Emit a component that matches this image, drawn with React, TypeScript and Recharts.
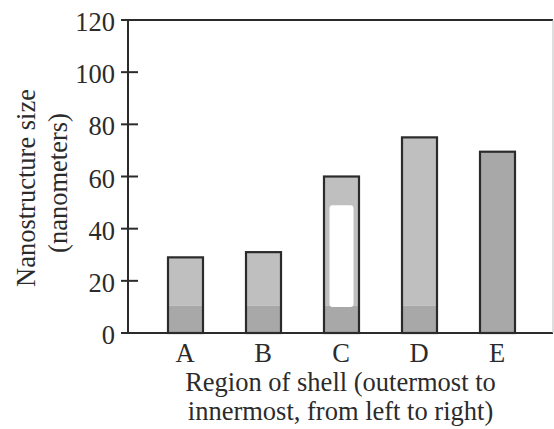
import React from 'react';
import { BarChart, Bar, XAxis, YAxis, ReferenceLine } from 'recharts';

const regions = ['A', 'B', 'C', 'D', 'E'];
const sizes = [29, 31, 60, 75, 69.5];
const darkBase = [10.5, 10.5, 10.5, 10.5, 69.5];
const blankFrom: (number | null)[] = [null, null, 10, null, null];
const blankTo: (number | null)[] = [null, null, 49, null, null];
const yTicks = [0, 20, 40, 60, 80, 100, 120];

const data = regions.map((r, i) => ({
  region: r,
  total: sizes[i],
  base: darkBase[i],
  blankFrom: blankFrom[i],
  blankTo: blankTo[i],
}));

const FONT = '"Liberation Serif", "Times New Roman", serif';
const FS = 26.5;
const INK = '#2b2b2b';
const LIGHT = '#bfbfbf';
const DARK = '#a8a8a8';

const BarShape = (props: any) => {
  const { x, y, width, height, payload } = props;
  if (!height || height <= 0) return null;
  const ppu = height / payload.total;
  const baseH = Math.min(height, payload.base * ppu);
  const bottom = y + height;
  let blank = null;
  if (payload.blankFrom != null && payload.blankTo != null) {
    const top = bottom - payload.blankTo * ppu;
    const h = (payload.blankTo - payload.blankFrom) * ppu;
    blank = <rect x={x + 5.5} y={top} width={width - 11} height={h} rx={3} fill="#ffffff" />;
  }
  return (
    <g>
      <rect x={x} y={y} width={width} height={height - baseH} fill={LIGHT} />
      <rect x={x} y={bottom - baseH} width={width} height={baseH} fill={DARK} />
      {blank}
      <rect x={x} y={y} width={width} height={height} fill="none" stroke={INK} strokeWidth={2.2} />
    </g>
  );
};

const YTick = (props: any) => {
  const { x, y, payload } = props;
  const ax = x + 13;
  return (
    <g>
      <line x1={ax - 7} x2={ax + 10} y1={y} y2={y} stroke={INK} strokeWidth={2} />
      <text x={x} y={y + 11} textAnchor="end" fontFamily={FONT} fontSize={FS} fill={INK}>
        {payload.value}
      </text>
    </g>
  );
};

const YTitle = (props: any) => {
  const { viewBox } = props;
  const vx = viewBox.x;
  return (
    <g fontFamily={FONT} fontSize={FS} fill={INK}>
      <text x={vx + 35} y={188} textAnchor="middle" transform={`rotate(-90 ${vx + 35} 188)`}>
        Nanostructure size
      </text>
      <text x={vx + 67} y={183} textAnchor="middle" transform={`rotate(-90 ${vx + 67} 183)`}>
        (nanometers)
      </text>
    </g>
  );
};

const XTitle = (props: any) => {
  const { viewBox } = props;
  const cx = viewBox.x + viewBox.width / 2;
  return (
    <g fontFamily={FONT} fontSize={FS} fill={INK}>
      <text x={cx} y={391} textAnchor="middle">Region of shell (outermost to</text>
      <text x={cx} y={420} textAnchor="middle">innermost, from left to right)</text>
    </g>
  );
};

export default function App() {
  return (
    <div style={{ position: 'absolute', left: 0, top: 0, background: '#fff' }}>
      <BarChart
        width={554}
        height={429}
        data={data}
        margin={{ top: 20, right: 0, bottom: 0, left: 0 }}
        barSize={35}
      >
        <XAxis
          dataKey="region"
          padding={{ left: 18, right: 17 }}
          axisLine={{ stroke: INK, strokeWidth: 2 }}
          tickLine={false}
          tickSize={0}
          tickMargin={10}
          tick={{ fill: INK, fontSize: FS, fontFamily: FONT }}
          label={<XTitle />}
          height={96}
        />
        <YAxis
          yAxisId="l"
          domain={[0, 120]}
          ticks={yTicks}
          width={128}
          axisLine={{ stroke: INK, strokeWidth: 2 }}
          tickLine={false}
          tickSize={0}
          tickMargin={13}
          tick={<YTick />}
          interval={0}
          label={<YTitle />}
        />
        <YAxis
          yAxisId="r"
          orientation="right"
          width={1}
          domain={[0, 120]}
          tick={false}
          tickLine={false}
          axisLine={{ stroke: '#bdbdbd', strokeWidth: 1 }}
        />
        <ReferenceLine yAxisId="l" y={120} stroke={INK} strokeWidth={2.2} />
        <Bar yAxisId="l" dataKey="total" shape={<BarShape />} isAnimationActive={false} />
      </BarChart>
    </div>
  );
}
